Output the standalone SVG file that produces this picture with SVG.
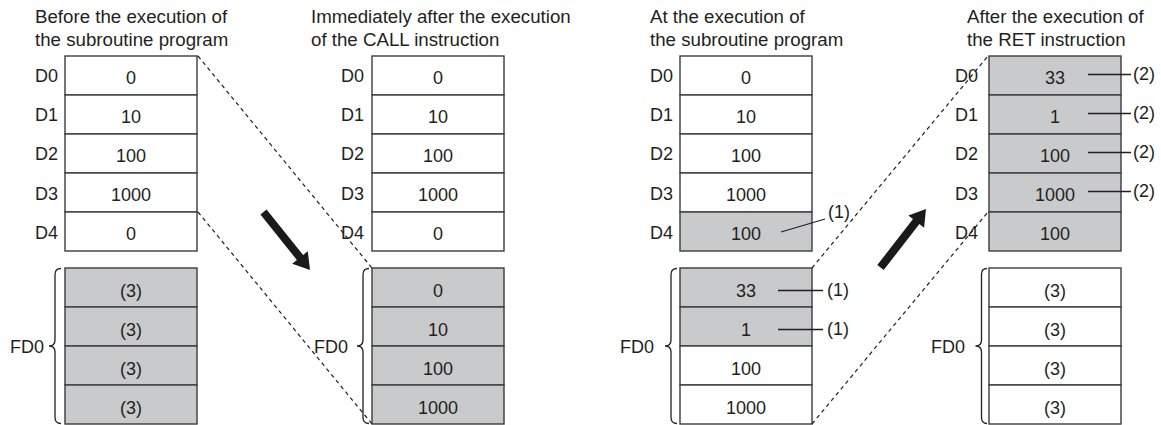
<svg xmlns="http://www.w3.org/2000/svg" width="1161" height="425" viewBox="0 0 1161 425">
<style>
text{font-family:"Liberation Sans",Arial,sans-serif;font-size:18px;fill:#231f20}
.t{font-size:18.7px}
.v{text-anchor:middle}
.c{fill:#fff;stroke:#3c3c3c;stroke-width:1.4}
.s{fill:#c9cacc;stroke:#3c3c3c;stroke-width:1.4}
.br{fill:none;stroke:#231f20;stroke-width:1.3}
.ld{stroke:#231f20;stroke-width:1.3;fill:none}
.dash{stroke:#231f20;stroke-width:1.2;stroke-dasharray:4 3.5;fill:none}
.ar{fill:#1a1a1a}
</style>
<rect width="1161" height="425" fill="#fff"/>

<!-- Column 1 -->
<g id="col1">
<text class="t" x="35" y="23">Before the execution of</text>
<text class="t" x="35" y="46">the subroutine program</text>
<rect class="c" x="65" y="56" width="132" height="39"/>
<rect class="c" x="65" y="95" width="132" height="39"/>
<rect class="c" x="65" y="134" width="132" height="39"/>
<rect class="c" x="65" y="173" width="132" height="39"/>
<rect class="c" x="65" y="212" width="132" height="39"/>
<text x="35" y="82">D0</text><text x="35" y="121">D1</text><text x="35" y="160">D2</text><text x="35" y="199.5">D3</text><text x="35" y="238.5">D4</text>
<text class="v" x="131" y="83.5">0</text><text class="v" x="131" y="122.5">10</text><text class="v" x="131" y="161.5">100</text><text class="v" x="131" y="200.5">1000</text><text class="v" x="131" y="239.5">0</text>
<rect class="s" x="65" y="268" width="132" height="39"/>
<rect class="s" x="65" y="307" width="132" height="39"/>
<rect class="s" x="65" y="346" width="132" height="39"/>
<rect class="s" x="65" y="385" width="132" height="39"/>
<text class="v" x="131" y="297">(3)</text><text class="v" x="131" y="336">(3)</text><text class="v" x="131" y="375">(3)</text><text class="v" x="131" y="414">(3)</text>
<path class="br" d="M61,268.5 Q55,268.5 55,274.5 L55,340 Q55,346 49,346 Q55,346 55,352 L55,417.5 Q55,423.5 61,423.5"/>
<text x="10" y="352.5">FD0</text>
</g>

<!-- Column 2 -->
<g id="col2">
<text class="t" x="311" y="23">Immediately after the execution</text>
<text class="t" x="311" y="46">of the CALL instruction</text>
<rect class="c" x="372" y="56" width="132" height="39"/>
<rect class="c" x="372" y="95" width="132" height="39"/>
<rect class="c" x="372" y="134" width="132" height="39"/>
<rect class="c" x="372" y="173" width="132" height="39"/>
<rect class="c" x="372" y="212" width="132" height="39"/>
<text x="341" y="82">D0</text><text x="341" y="121">D1</text><text x="341" y="160">D2</text><text x="341" y="199.5">D3</text><text x="341" y="238.5">D4</text>
<text class="v" x="438" y="83.5">0</text><text class="v" x="438" y="122.5">10</text><text class="v" x="438" y="161.5">100</text><text class="v" x="438" y="200.5">1000</text><text class="v" x="438" y="239.5">0</text>
<rect class="s" x="372" y="268" width="132" height="39"/>
<rect class="s" x="372" y="307" width="132" height="39"/>
<rect class="s" x="372" y="346" width="132" height="39"/>
<rect class="s" x="372" y="385" width="132" height="39"/>
<text class="v" x="438" y="297">0</text><text class="v" x="438" y="336">10</text><text class="v" x="438" y="375">100</text><text class="v" x="438" y="414">1000</text>
<path class="br" d="M369,268.5 Q363,268.5 363,274.5 L363,340 Q363,346 357,346 Q363,346 363,352 L363,417.5 Q363,423.5 369,423.5"/>
<text x="314" y="352.5">FD0</text>
</g>

<!-- Column 3 -->
<g id="col3">
<text class="t" x="650" y="23">At the execution of</text>
<text class="t" x="650" y="46">the subroutine program</text>
<rect class="c" x="680" y="56" width="132" height="39"/>
<rect class="c" x="680" y="95" width="132" height="39"/>
<rect class="c" x="680" y="134" width="132" height="39"/>
<rect class="c" x="680" y="173" width="132" height="39"/>
<rect class="s" x="680" y="212" width="132" height="39"/>
<text x="650" y="82">D0</text><text x="650" y="121">D1</text><text x="650" y="160">D2</text><text x="650" y="199.5">D3</text><text x="650" y="238.5">D4</text>
<text class="v" x="746" y="83.5">0</text><text class="v" x="746" y="122.5">10</text><text class="v" x="746" y="161.5">100</text><text class="v" x="746" y="200.5">1000</text><text class="v" x="746" y="239.5">100</text>
<rect class="s" x="680" y="268" width="132" height="39"/>
<rect class="s" x="680" y="307" width="132" height="39"/>
<rect class="c" x="680" y="346" width="132" height="39"/>
<rect class="c" x="680" y="385" width="132" height="39"/>
<text class="v" x="746" y="297">33</text><text class="v" x="746" y="336">1</text><text class="v" x="746" y="375">100</text><text class="v" x="746" y="414">1000</text>
<path class="br" d="M677,268.5 Q671,268.5 671,274.5 L671,340 Q671,346 665,346 Q671,346 671,352 L671,417.5 Q671,423.5 677,423.5"/>
<text x="620" y="352.5">FD0</text>
<line class="ld" x1="781" y1="232" x2="825" y2="219"/>
<text x="828" y="218">(1)</text>
<line class="ld" x1="778" y1="290.5" x2="823" y2="290.5"/>
<text x="827" y="295.5">(1)</text>
<line class="ld" x1="778" y1="329.5" x2="823" y2="329.5"/>
<text x="827" y="334.5">(1)</text>
</g>

<!-- Column 4 -->
<g id="col4">
<text class="t" x="967" y="23">After the execution of</text>
<text class="t" x="967" y="46">the RET instruction</text>
<rect class="s" x="989" y="56" width="132" height="39"/>
<rect class="s" x="989" y="95" width="132" height="39"/>
<rect class="s" x="989" y="134" width="132" height="39"/>
<rect class="s" x="989" y="173" width="132" height="39"/>
<rect class="s" x="989" y="212" width="132" height="39"/>
<text x="955" y="82">D0</text><text x="955" y="121">D1</text><text x="955" y="160">D2</text><text x="955" y="199.5">D3</text><text x="955" y="238.5">D4</text>
<text class="v" x="1055" y="83.5">33</text><text class="v" x="1055" y="122.5">1</text><text class="v" x="1055" y="161.5">100</text><text class="v" x="1055" y="200.5">1000</text><text class="v" x="1055" y="239.5">100</text>
<rect class="c" x="989" y="268" width="132" height="39"/>
<rect class="c" x="989" y="307" width="132" height="39"/>
<rect class="c" x="989" y="346" width="132" height="39"/>
<rect class="c" x="989" y="385" width="132" height="39"/>
<text class="v" x="1055" y="297">(3)</text><text class="v" x="1055" y="336">(3)</text><text class="v" x="1055" y="375">(3)</text><text class="v" x="1055" y="414">(3)</text>
<path class="br" d="M987,268.5 Q981.5,268.5 981.5,274.5 L981.5,340 Q981.5,346 975.5,346 Q981.5,346 981.5,352 L981.5,417.5 Q981.5,423.5 987,423.5"/>
<text x="931" y="352.5">FD0</text>
<line class="ld" x1="1088" y1="74.5" x2="1131" y2="74.5"/>
<text x="1133" y="80">(2)</text>
<line class="ld" x1="1088" y1="113.5" x2="1131" y2="113.5"/>
<text x="1133" y="119">(2)</text>
<line class="ld" x1="1088" y1="152.5" x2="1131" y2="152.5"/>
<text x="1133" y="158">(2)</text>
<line class="ld" x1="1088" y1="191.5" x2="1131" y2="191.5"/>
<text x="1133" y="197">(2)</text>
</g>

<!-- Connectors -->
<g id="connectors">
<line class="dash" x1="198" y1="56" x2="372" y2="268"/>
<line class="dash" x1="198" y1="212" x2="372" y2="424"/>
<line class="dash" x1="812" y1="268" x2="988" y2="56"/>
<line class="dash" x1="812" y1="424" x2="988" y2="212"/>
<polygon class="ar" points="260.4,214.5 266.6,209.5 303.1,255 307.8,251.2 310,270 292.2,263.8 296.9,260"/>
<polygon class="ar" points="877.3,265 883.7,270 919.4,224.1 924.1,227.7 926,209 908.3,215.5 913,219.1"/>
</g>
</svg>
